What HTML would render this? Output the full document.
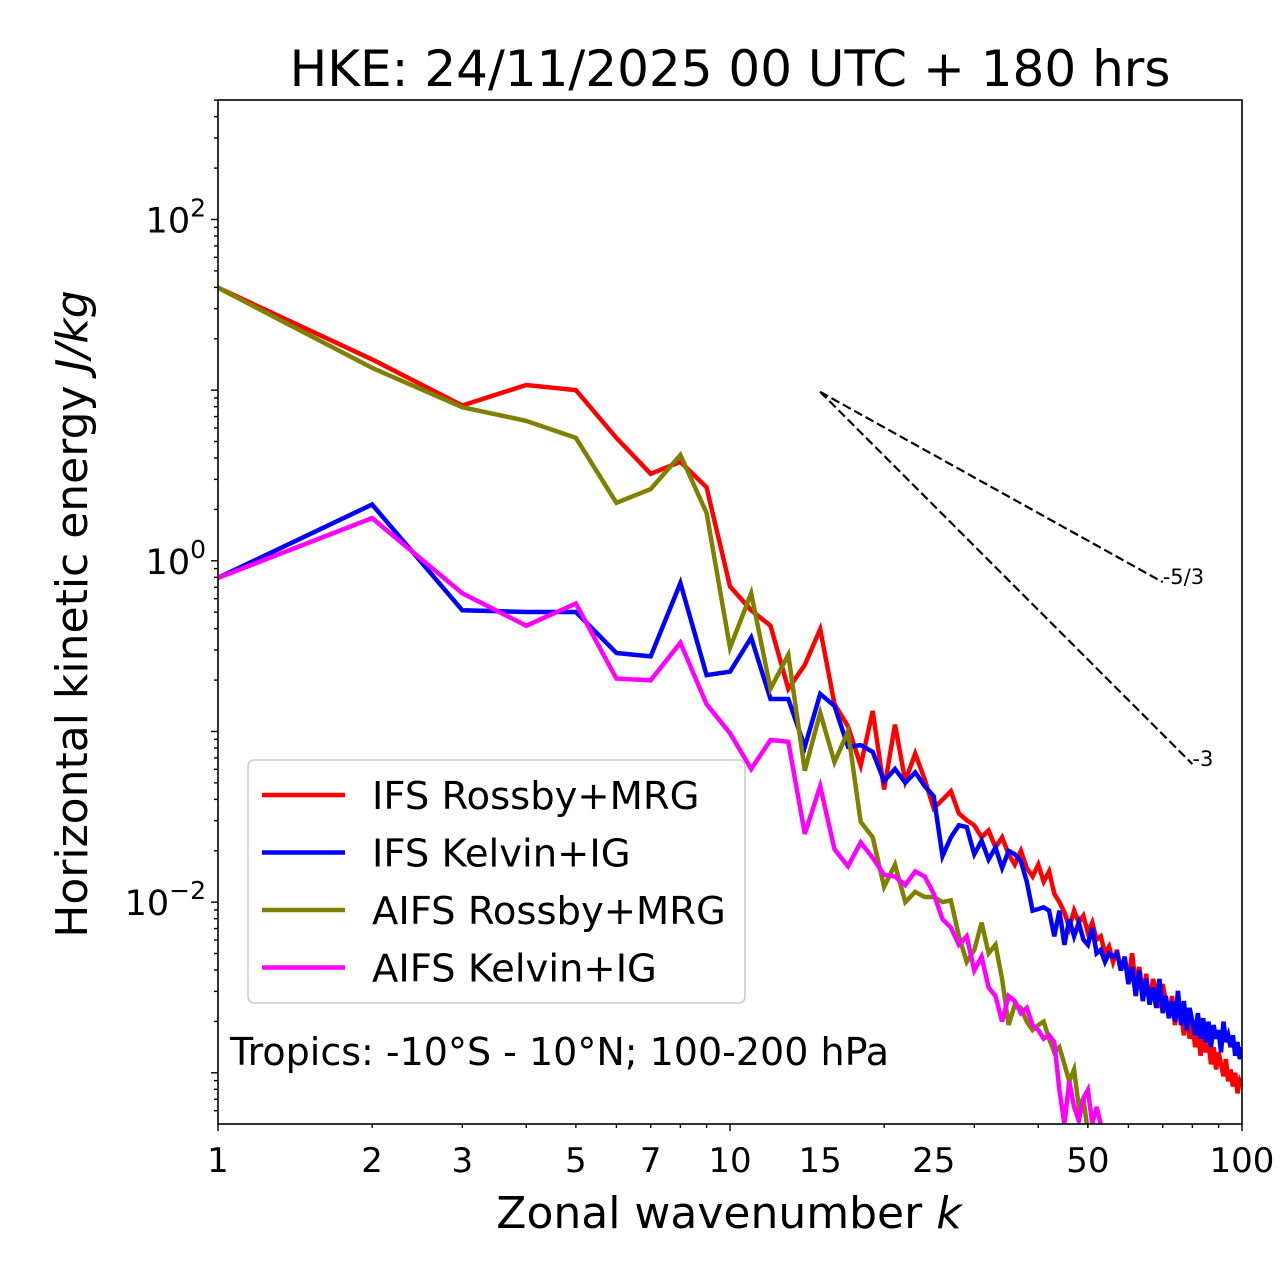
<!DOCTYPE html>
<html><head><meta charset="utf-8"><style>
html,body{margin:0;padding:0;background:#fff}
svg{display:block;font-family:"DejaVu Sans","Liberation Sans",sans-serif}
</style></head><body>
<svg id="chart" width="1280" height="1288" xmlns="http://www.w3.org/2000/svg">
<text x="730" y="86" font-size="50" text-anchor="middle">HKE: 24/11/2025 00 UTC + 180 hrs</text>
<defs><clipPath id="plotclip"><rect x="218" y="100" width="1024" height="1024"/></clipPath></defs>
<g id="series" clip-path="url(#plotclip)"></g>
<g id="ref"></g>
<rect x="218" y="100" width="1024" height="1024" fill="none" stroke="#000" stroke-width="1.6"/>
<g id="axes"></g>
<text x="729" y="1228" font-size="44" text-anchor="middle">Zonal wavenumber <tspan font-style="italic">k</tspan></text>
<text transform="translate(87,614) rotate(-90)" font-size="44" text-anchor="middle">Horizontal kinetic energy <tspan font-style="italic">J/kg</tspan></text>
<g>
<rect x="248" y="760" width="497" height="243" rx="6" fill="#fff" fill-opacity="0.85" stroke="#ccc" stroke-width="1.6"/>
<g id="legend-entries"></g>
</g>
<text x="230" y="1065" font-size="38">Tropics: -10°S - 10°N; 100-200 hPa</text>
</svg>
<script>
const xTicks = [1,2,3,5,7,10,15,25,50,100];
const xTickLabels = ["1","2","3","5","7","10","15","25","50","100"];
const yDecades = [-2,0,2];
const seriesNames = ["IFS Rossby+MRG","IFS Kelvin+IG","AIFS Rossby+MRG","AIFS Kelvin+IG"];
const seriesColors = ["#ff0000","#0000ff","#808000","#ff00ff"];
// log10 of energy (J/kg) for k = 1, 2, 3, ...
const ifsRossbyLog = [1.60,1.18,0.91,1.03,1.00,0.72,0.51,0.58,0.43,-0.15,-0.29,-0.38,-0.75,-0.61,-0.40,-0.84,-0.97,-1.20,-0.88,-1.34,
-0.96,-1.29,-1.13,-1.28,-1.45,-1.40,-1.35,-1.48,-1.52,-1.55,-1.62,-1.58,-1.68,-1.62,-1.72,-1.78,-1.70,-1.80,-1.85,-1.78,
-1.88,-1.82,-1.95,-2.00,-2.06,-2.15,-2.05,-2.12,-2.08,-2.18,-2.12,-2.22,-2.20,-2.30,-2.26,-2.35,-2.28,-2.40,-2.33,-2.45,
-2.30,-2.48,-2.38,-2.55,-2.42,-2.60,-2.45,-2.52,-2.62,-2.48,-2.58,-2.68,-2.55,-2.72,-2.60,-2.65,-2.78,-2.62,-2.80,-2.70,
-2.85,-2.75,-2.90,-2.78,-2.88,-2.82,-2.95,-2.85,-2.98,-2.88,-2.95,-3.02,-2.92,-3.05,-2.98,-3.08,-3.00,-3.12,-3.05,-3.08];
const ifsKelvinLog = [-0.10,0.33,-0.29,-0.30,-0.30,-0.54,-0.56,-0.13,-0.67,-0.65,-0.45,-0.81,-0.81,-1.09,-0.78,-0.85,-1.09,-1.08,-1.12,-1.29,
-1.22,-1.30,-1.24,-1.32,-1.38,-1.73,-1.62,-1.55,-1.56,-1.72,-1.64,-1.75,-1.68,-1.80,-1.70,-1.72,-1.76,-1.88,-2.05,-2.04,
-2.03,-2.05,-2.20,-2.05,-2.25,-2.10,-2.20,-2.12,-2.22,-2.25,-2.15,-2.30,-2.28,-2.35,-2.30,-2.32,-2.30,-2.40,-2.32,-2.48,
-2.38,-2.55,-2.40,-2.58,-2.45,-2.60,-2.50,-2.62,-2.45,-2.65,-2.55,-2.68,-2.58,-2.70,-2.52,-2.72,-2.58,-2.75,-2.62,-2.70,
-2.78,-2.65,-2.80,-2.68,-2.82,-2.70,-2.85,-2.72,-2.80,-2.75,-2.88,-2.70,-2.82,-2.78,-2.85,-2.78,-2.90,-2.82,-2.92,-2.85];
const aifsRossbyLog = [1.60,1.13,0.90,0.82,0.72,0.34,0.42,0.62,0.28,-0.51,-0.19,-0.75,-0.55,-1.23,-0.89,-1.18,-1.00,-1.53,-1.62,-1.91,
-1.78,-2.00,-1.94,-1.97,-1.97,-2.00,-1.99,-2.20,-2.35,-2.28,-2.12,-2.30,-2.25,-2.45,-2.72,-2.60,-2.62,-2.70,-2.75,-2.72,
-2.70,-2.80,-2.88,-2.85,-2.95,-3.05,-2.98,-3.20,-3.15,-3.35,-3.30,-3.40];
const aifsKelvinLog = [-0.10,0.25,-0.19,-0.38,-0.25,-0.69,-0.70,-0.48,-0.84,-1.01,-1.22,-1.05,-1.06,-1.60,-1.32,-1.69,-1.79,-1.65,-1.74,-1.84,
-1.85,-1.90,-1.82,-1.85,-1.95,-2.10,-2.15,-2.25,-2.20,-2.40,-2.32,-2.50,-2.55,-2.70,-2.55,-2.58,-2.65,-2.62,-2.72,-2.75,
-2.80,-2.78,-2.82,-3.10,-3.30,-3.05,-3.20,-3.28,-3.15,-3.10,-3.30,-3.20,-3.30,-3.40];
const refSlopes = [-5/3,-3];
const refSlopeLabels = ["-5/3","-3"];
const refStartK = 15, refStartLog = 0.99;
const refEndK = [70,80];

const NS="http://www.w3.org/2000/svg";
const X0=218,X1=1242,Y0=100,Y1=1124;
const xMinLog=0,xMaxLog=2,yMinLog=-3.3,yMaxLog=2.7;
function xs(k){return X0+(Math.log10(k)-xMinLog)/(xMaxLog-xMinLog)*(X1-X0);}
function ys(l){return Y1-(l-yMinLog)/(yMaxLog-yMinLog)*(Y1-Y0);}
function mk(tag,attrs,parent){const e=document.createElementNS(NS,tag);for(const a in attrs)e.setAttribute(a,attrs[a]);parent.appendChild(e);return e;}

const sg=document.getElementById('series');
const allSeries=[ifsRossbyLog,ifsKelvinLog,aifsRossbyLog,aifsKelvinLog];
const seriesKeys=["ifs-rossby-line","ifs-kelvin-line","aifs-rossby-line","aifs-kelvin-line"];
allSeries.forEach((arr,i)=>{
  const pts=arr.map((v,j)=>xs(j+1).toFixed(1)+","+ys(v).toFixed(1)).join(" ");
  const p=mk('polyline',{points:pts,fill:'none',stroke:seriesColors[i],'stroke-width':4.5,'stroke-linejoin':'miter'},sg);
  
  
});

const rg=document.getElementById('ref');
refSlopes.forEach((s,i)=>{
  const x1=xs(refStartK),y1=ys(refStartLog);
  const endLog=refStartLog+s*(Math.log10(refEndK[i])-Math.log10(refStartK));
  const x2=xs(refEndK[i]),y2=ys(endLog);
  const l=mk('line',{x1:x1,y1:y1,x2:x2,y2:y2,stroke:'#000','stroke-width':2.2,'stroke-dasharray':'9,4'},rg);
  
  
  const t=mk('text',{x:x2,y:y2+2,'font-size':21},rg);
  t.textContent=refSlopeLabels[i];
  
  
});

const ax=document.getElementById('axes');
for(let d=0;d<2;d++){for(let m=1;m<10;m++){const k=m*Math.pow(10,d);const x=xs(k);
  const len=(m===1)?7:4;
  const tk=mk('line',{x1:x,y1:Y1,x2:x,y2:Y1+len,stroke:'#000','stroke-width':1.4},ax);
  
  
}}
mk('line',{x1:X1,y1:Y1,x2:X1,y2:Y1+7,stroke:'#000','stroke-width':1.4},ax);
xTicks.forEach((k,i)=>{
  const t=mk('text',{x:xs(k),y:Y1+48,'font-size':34,'text-anchor':'middle'},ax);
  t.textContent=xTickLabels[i];
  
  
});
for(let d=-4;d<3;d++){for(let m=1;m<10;m++){const l=d+Math.log10(m);
  if(l<yMinLog||l>yMaxLog)continue;const y=ys(l);const len=(m===1)?7:4;
  const tk=mk('line',{x1:X0-len,y1:y,x2:X0,y2:y,stroke:'#000','stroke-width':1.4},ax);
  
  
}}
yDecades.forEach(d=>{
  const t=mk('text',{x:X0-12,y:ys(d)+13,'font-size':35,'text-anchor':'end'},ax);
  t.textContent='10';
  const sp=mk('tspan',{dy:-16,'font-size':25},t);
  sp.textContent=(d<0?'\u2212':'')+Math.abs(d);
  
  
});

const lg=document.getElementById('legend-entries');
seriesNames.forEach((n,i)=>{
  const y=795+i*57.5;
  const l=mk('line',{x1:262,y1:y,x2:345,y2:y,stroke:seriesColors[i],'stroke-width':4.5},lg);
  
  
  const t=mk('text',{x:372,y:y+14,'font-size':38.5},lg);
  t.textContent=n;
  
  
});
</script>
</body></html>
